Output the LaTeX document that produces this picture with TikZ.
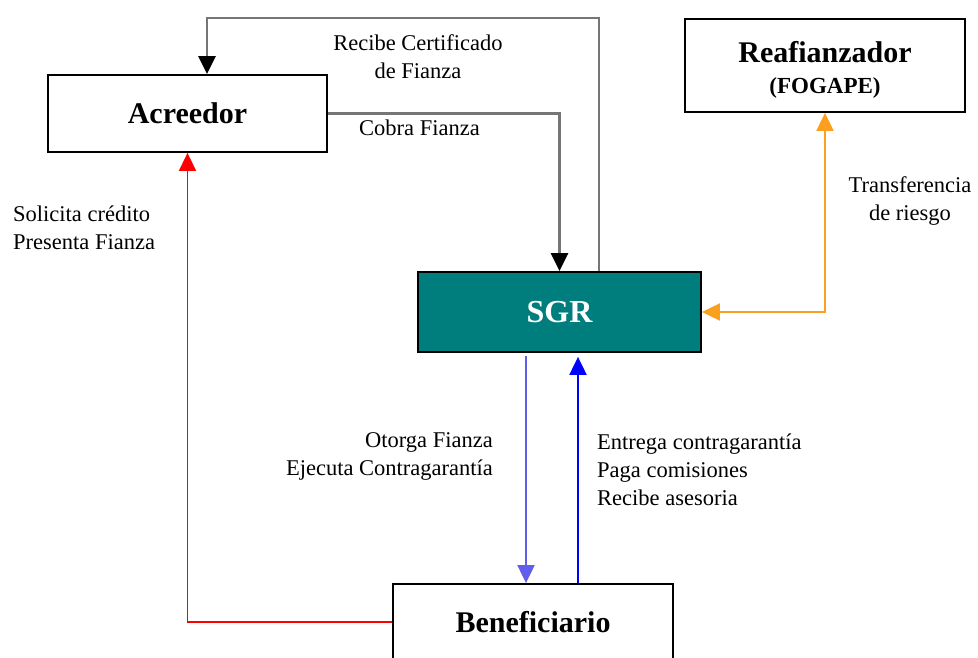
\documentclass[tikz,border=0pt]{standalone}
\usepackage{fontspec}
\setmainfont{Liberation Serif}
\usetikzlibrary{arrows.meta, positioning, calc}
\definecolor{SGRTeal}{RGB}{0,126,126}
\definecolor{LineGray}{RGB}{118,118,118}
\definecolor{RiskOrange}{RGB}{250,160,30}
\definecolor{SoftBlue}{RGB}{95,95,235}

\begin{document}
\begin{tikzpicture}[x=1pt, y=-1pt,
    box/.style={rectangle, draw=black, line width=1.8pt, inner sep=0pt,
                font=\fontsize{30}{34}\selectfont\bfseries, align=center},
    lbl/.style={inner sep=0pt, font=\fontsize{22.5}{28}\selectfont},
    arr/.style={-{Triangle[length=18pt,width=17pt]}, line width=2pt},
    darr/.style={{Triangle[length=18pt,width=17pt]}-{Triangle[length=18pt,width=17pt]},
                 line width=2pt}
  ]
  \useasboundingbox (0,0) rectangle (978,658);

  \node[box, minimum width=279pt, minimum height=77pt] (acr) at (187.5,113.5) {Acreedor};
  \node[box, minimum width=280pt, minimum height=93pt] (rea) at (825,65.5)
        {\rule{0pt}{29pt}Reafianzador\\[-3pt]{\fontsize{23}{26}\selectfont (FOGAPE)}};
  \node[box, fill=SGRTeal, text=white, minimum width=283pt, minimum height=80pt,
        font=\fontsize{32}{36}\selectfont\bfseries] (sgr) at (559.5,312) {SGR};
  \node[box, minimum width=280pt, minimum height=76pt] (ben) at (533,622) {Beneficiario};

  % gray loop between Acreedor and SGR
  \coordinate (tl) at (207,18);
  \draw[LineGray, line width=2.6pt, -{Triangle[length=18pt,width=17pt,color=black]}]
        ([xshift=39.5pt]sgr.north) |- (tl) -- (tl |- acr.north);
  \draw[LineGray, line width=2.6pt, -{Triangle[length=18pt,width=17pt,color=black]}]
        (acr.east) -| (sgr.north);

  \draw[arr, red, line width=1.6pt] (ben.west) -| (acr.south);
  \draw[arr, SoftBlue] ([xshift=-33.5pt, yshift=-3pt]sgr.south) -- ([xshift=-7pt]ben.north);
  \draw[arr, blue] ([xshift=45pt]ben.north) -- ([xshift=18.5pt, yshift=-4pt]sgr.south);
  \draw[darr, RiskOrange] (rea.south) |- (sgr.east);

  % labels
  \node[lbl, align=center] (rcf) at (418,57) {Recibe Certificado\\de Fianza};
  \node[lbl, anchor=west] (cob) at (359,128) {Cobra Fianza};
  \node[lbl, anchor=west, align=left] (sol) at (13,228) {Solicita crédito\\Presenta Fianza};
  \node[lbl, anchor=east, align=right] (oto) at (493,456) {Otorga Fianza\\Ejecuta Contragarantía};
  \node[lbl, anchor=west, align=left] (ent) at (597,470)
        {Entrega contragarantía\\Paga comisiones\\Recibe asesoria};
  \node[lbl, align=center] (tra) at (910,201) {Transferencia\\de riesgo};
\end{tikzpicture}
\end{document}
